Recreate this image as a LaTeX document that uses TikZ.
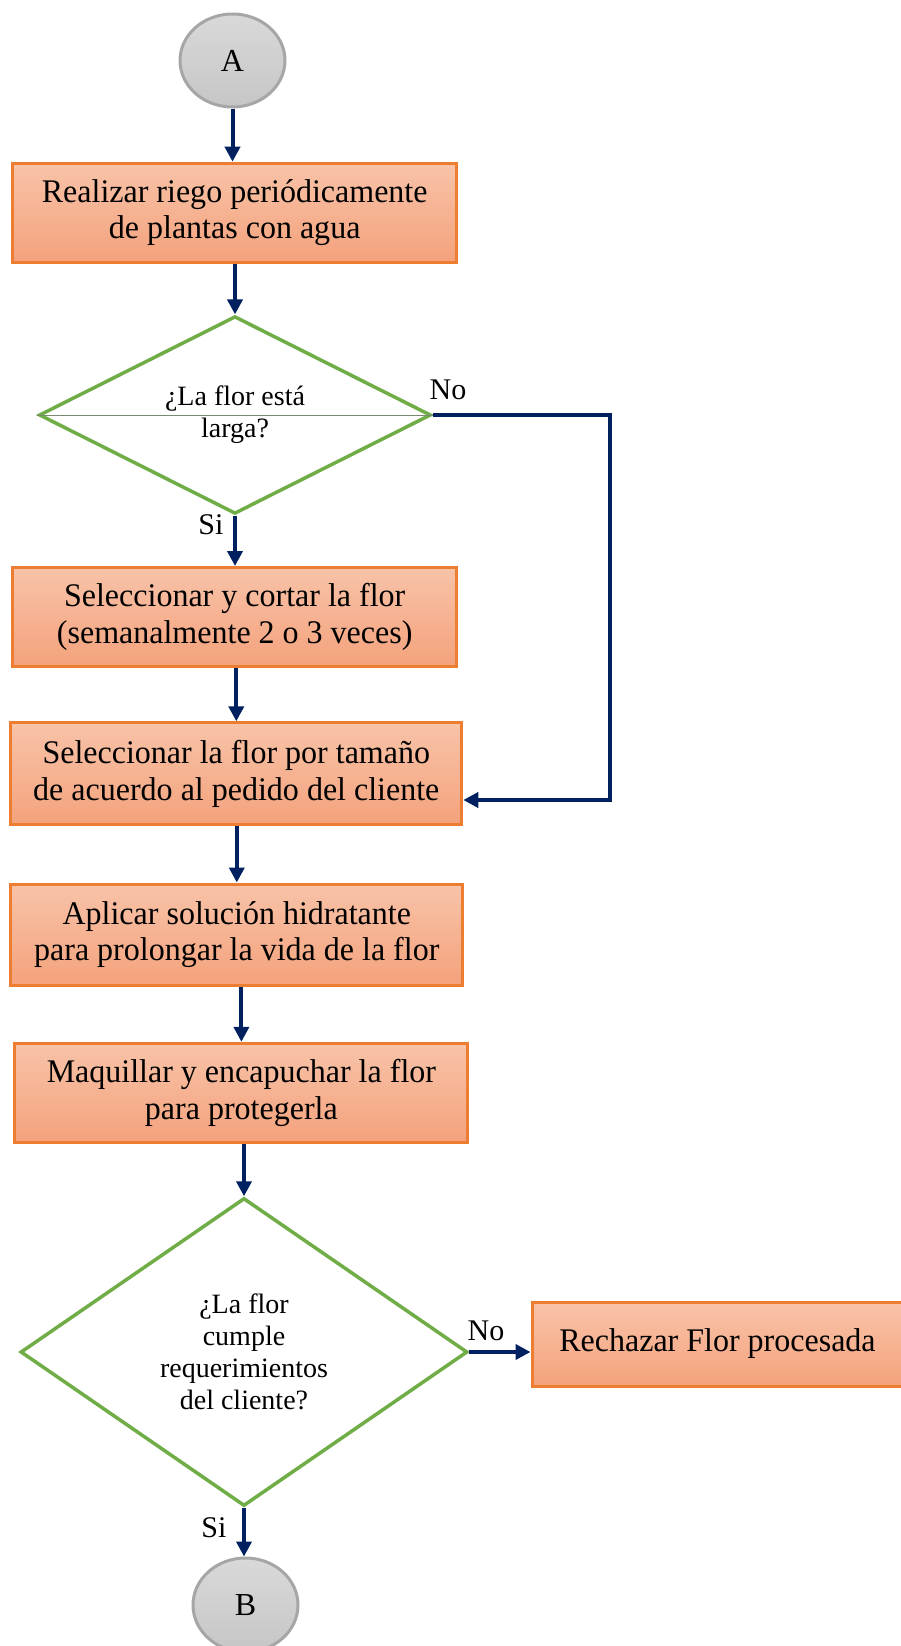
\documentclass[tikz,border=0pt]{standalone}
\usepackage{fontspec}
\setmainfont{Liberation Serif}
\newfontfamily\boxfont[FakeStretch=0.97]{Liberation Serif}
\usetikzlibrary{shapes.geometric,arrows.meta}
\definecolor{navy}{HTML}{002060}
\definecolor{obord}{HTML}{ED7D31}
\definecolor{otop}{HTML}{F8C3A8}
\definecolor{obot}{HTML}{F4A27C}
\definecolor{gborder}{HTML}{A6A6A6}
\definecolor{gtop}{HTML}{D9D9D9}
\definecolor{gbot}{HTML}{C6C6C6}
\definecolor{dgreen}{HTML}{70AD47}
\definecolor{midline}{HTML}{7A8A70}
\begin{document}
\begin{tikzpicture}[x=1pt,y=-1pt,
 proc/.style={rectangle, draw=obord, line width=3pt, top color=otop, bottom color=obot, inner sep=0pt, align=center, font=\boxfont\fontsize{33}{36.7}\selectfont},
 decis/.style={diamond, draw=dgreen, line width=3.5pt, fill=white, inner sep=0pt, align=center, font=\fontsize{28}{32}\selectfont},
 term/.style={ellipse, draw=gborder, line width=3pt, top color=gtop, bottom color=gbot, inner sep=0pt, font=\fontsize{32}{38}\selectfont},
 flow/.style={draw=navy, line width=4pt, -{Triangle[length=15pt,width=15pt]}},
 lbl/.style={font=\fontsize{30}{34}\selectfont, inner sep=0pt}]
\useasboundingbox (0,0) rectangle (901,1646);

\node[term, minimum width=105pt, minimum height=93pt] (A) at (232.5,60.5) {A};
\node[proc, minimum width=444pt, minimum height=99pt] (b1) at (234.7,212.7) {Realizar riego periódicamente\\de plantas con agua};
\node[decis, minimum width=392pt, minimum height=190pt] (d1) at (235,415) {¿La flor está\\larga?};
\draw[line width=0.8pt, midline] (d1.west) -- (d1.east);
\node[proc, minimum width=444pt, minimum height=99pt] (b2) at (234.7,617) {Seleccionar y cortar la flor\\(semanalmente 2 o 3 veces)};
\node[proc, minimum width=451pt, minimum height=102pt] (b3) at (236.3,773.8) {Seleccionar la flor por tamaño\\de acuerdo al pedido del cliente};
\node[proc, minimum width=452pt, minimum height=101pt] (b4) at (236.8,934.5) {Aplicar solución hidratante\\para prolongar la vida de la flor};
\node[proc, minimum width=453pt, minimum height=99pt] (b5) at (241.4,1092.8) {Maquillar y encapuchar la flor\\para protegerla};
\node[decis, minimum width=447pt, minimum height=308pt, font=\fontsize{28}{32}\selectfont] (d2) at (244,1352) {¿La flor\\cumple\\requerimientos\\del cliente?};
\node[proc, minimum width=371pt, minimum height=84pt] (b6) at (717.5,1344) {Rechazar Flor procesada};
\node[term, minimum width=105pt, minimum height=94pt] (B) at (245.5,1605) {B};

\coordinate (c1) at (610,415);
\coordinate (c2) at (610,800);

\draw[flow] (A.south) -- (A.south |- b1.north);
\draw[flow] (d1.north |- b1.south) -- (d1.north);
\draw[flow] (d1.south) -- (d1.south |- b2.north);
\draw[flow] (b3.north |- b2.south) -- (b3.north);
\draw[flow] (b4.north |- b3.south) -- (b4.north);
\draw[flow] (b5.north |- b4.south) -- (b5.north);
\draw[flow] (d2.north |- b5.south) -- (d2.north);
\draw[flow] (d2.east) -- (d2.east -| b6.west);
\draw[flow] (d2.south) -- (d2.south |- B.north);
\draw[flow] (d1.east) -- (c1) -- (c2) -- (b3.east |- c2);

\node[lbl] (no1) at (448,390) {No};
\node[lbl] (si1) at (211,525) {Si};
\node[lbl] (no2) at (486,1331) {No};
\node[lbl] (si2) at (214,1528) {Si};
\end{tikzpicture}
\end{document}
